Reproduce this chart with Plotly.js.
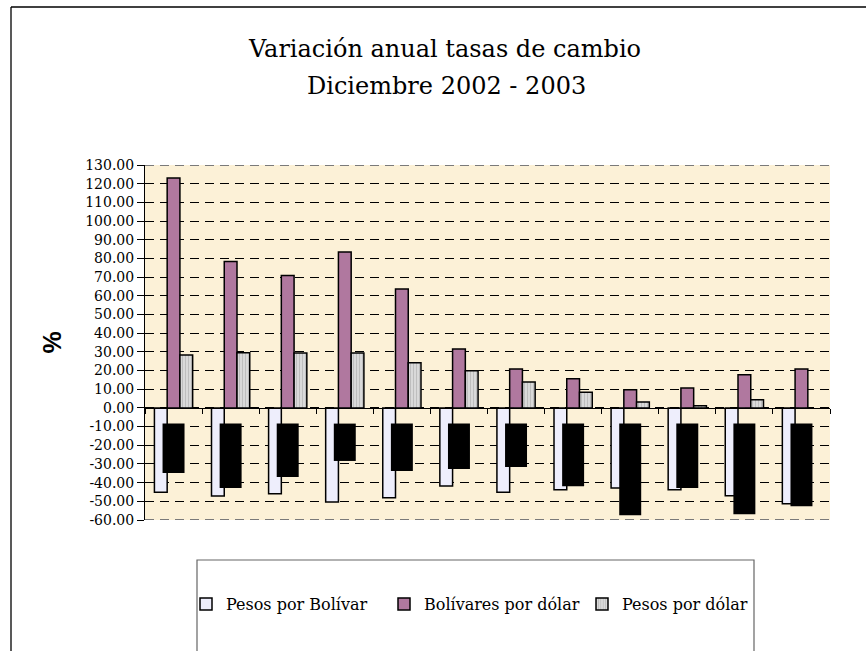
<!DOCTYPE html>
<html>
<head>
<meta charset="utf-8">
<script src="https://cdn.plot.ly/plotly-3.0.1.min.js"></script>
<style>html,body{margin:0;padding:0;background:#fff;}#chart{width:866px;height:651px;}</style>
</head>
<body>
<div id="chart"></div>
<script>
// ---- data ----
const categories = ["Ene", "Feb", "Mar", "Abr", "May", "Jun", "Jul", "Ago", "Sep", "Oct", "Nov", "Dic"];
const pesosPorBolivar = [-45.1, -47.2, -45.9, -50.4, -48.1, -41.8, -45.1, -43.8, -42.9, -43.8, -47.0, -51.3];
const bolivaresPorDolar = [123.0, 78.3, 70.8, 83.4, 63.7, 31.5, 20.8, 15.6, 9.7, 10.6, 17.7, 20.8];
const pesosPorDolar = [28.3, 29.5, 29.4, 29.4, 24.1, 19.9, 13.8, 8.4, 3.2, 1.1, 4.3, null];
// dark blocks drawn below the axis in the original picture (top and bottom levels)
const blockTop = [-8.4, -8.4, -8.4, -8.4, -8.4, -8.4, -8.4, -8.4, -8.4, -8.4, -8.4, -8.4];
const blockBottom = [-34.9, -42.9, -37.0, -28.4, -33.8, -32.7, -31.7, -42.0, -57.4, -42.9, -56.9, -52.6];
const yTickVals = [130, 120, 110, 100, 90, 80, 70, 60, 50, 40, 30, 20, 10, 0, -10, -20, -30, -40, -50, -60];
const yTickText = ["130.00", "120.00", "110.00", "100.00", "90.00", "80.00", "70.00", "60.00", "50.00", "40.00", "30.00", "20.00", "10.00", "0.00", "-10.00", "-20.00", "-30.00", "-40.00", "-50.00", "-60.00"];
const seriesNames = ["Pesos por Bolívar", "Bolívares por dólar", "Pesos por dólar"];

// ---- chart ----
const W = 866, H = 651;
const mL = 145, mR = 36, mT = 165, mB = 131;
const pw = W - mL - mR, ph = H - mT - mB;
const px = x => (x - mL) / pw;
const py = y => (H - mB - y) / ph;

const line = {color: "#000", width: 1.5};
const traces = [
  {type: "bar", name: seriesNames[0], x: categories, y: pesosPorBolivar,
   marker: {color: "#EEEEFC", line: line}},
  {type: "bar", name: seriesNames[1], x: categories, y: bolivaresPorDolar,
   marker: {color: "#B0789F", line: line}},
  {type: "bar", name: seriesNames[2], x: categories, y: pesosPorDolar,
   marker: {color: "#D6D6D6", line: line,
            pattern: {shape: "|", fgcolor: "#B5B5B5", bgcolor: "#D9D9D9", size: 3, solidity: 0.25}}},
  {type: "bar", name: "", showlegend: false, hoverinfo: "skip", xaxis: "x2",
   x: categories, base: blockTop, y: blockBottom.map((b, i) => b - blockTop[i]),
   width: 0.385, marker: {color: "#000", line: {width: 0}}}
];

const layout = {
  width: W, height: H,
  margin: {l: mL, r: mR, t: mT, b: mB, pad: 0},
  paper_bgcolor: "#fff",
  plot_bgcolor: "#FCF1D7",
  barmode: "group",
  bargap: 0.33,
  bargroupgap: 0,
  showlegend: true,
  title: {
    text: "Variación anual tasas de cambio",
    font: {family: "DejaVu Serif", size: 24, color: "#000"},
    x: 445 / W, xanchor: "center", xref: "container",
    y: 1 - 49 / H, yanchor: "middle", yref: "container"
  },
  annotations: [{
    text: "Diciembre 2002 - 2003", showarrow: false,
    xref: "paper", yref: "paper", x: px(446), y: py(86),
    xanchor: "center", yanchor: "middle",
    font: {family: "DejaVu Serif", size: 24, color: "#000"}
  }],
  xaxis: {
    type: "category", range: [-0.5, 11.5],
    showticklabels: false, showgrid: false, zeroline: false,
    showline: true, linecolor: "#000", linewidth: 1,
    ticks: "outside", tickson: "boundaries", ticklen: 5, tickcolor: "#000",
    anchor: "free", position: 60 / 190, fixedrange: true
  },
  xaxis2: {
    type: "category", range: [-0.5, 11.5], overlaying: "x", anchor: "y",
    visible: false, showgrid: false, zeroline: false
  },
  yaxis: {
    range: [-60, 130], tickvals: yTickVals, ticktext: yTickText,
    showline: true, linecolor: "#000", linewidth: 1,
    ticks: "outside", ticklen: 7, tickcolor: "#000",
    tickfont: {family: "DejaVu Serif", size: 14, color: "#000"},
    showgrid: true, gridcolor: "#000", gridwidth: 1, griddash: "9px,6px",
    zeroline: false,
    title: {text: "%", font: {family: "Liberation Sans", size: 25, color: "#000", weight: "bold"}, standoff: 16},
    automargin: false
  },
  legend: {
    orientation: "h", x: px(186), y: py(604), xanchor: "left", yanchor: "middle",
    xref: "paper", yref: "paper",
    font: {family: "DejaVu Serif", size: 16, color: "#000"},
    bgcolor: "rgba(0,0,0,0)", borderwidth: 0,
    entrywidth: 153, itemwidth: 30, traceorder: "normal"
  },
  shapes: [
    // outer chart frame (left and top edges visible)
    {type: "line", xref: "paper", yref: "paper", x0: px(11), x1: px(11), y0: py(7), y1: py(660),
     line: {color: "#222", width: 1.5}},
    {type: "line", xref: "paper", yref: "paper", x0: px(11), x1: px(870), y0: py(7), y1: py(7),
     line: {color: "#000", width: 1.5}},
    // grey dashed edge gridlines (top and bottom of plot area)
    {type: "line", xref: "paper", yref: "y", x0: 0, x1: 1, y0: 130, y1: 130,
     line: {color: "#7a7a7a", width: 2, dash: "9px,6px"}},
    {type: "line", xref: "paper", yref: "y", x0: 0, x1: 1, y0: -60, y1: -60,
     line: {color: "#7a7a7a", width: 2, dash: "9px,6px"}},
    // legend box
    {type: "rect", xref: "paper", yref: "paper", x0: px(197), x1: px(754), y0: py(560), y1: py(660),
     line: {color: "#666", width: 1.2}, fillcolor: "rgba(0,0,0,0)"}
  ]
};

Plotly.newPlot("chart", traces, layout, {displayModeBar: false, staticPlot: true});
</script>
</body>
</html>
